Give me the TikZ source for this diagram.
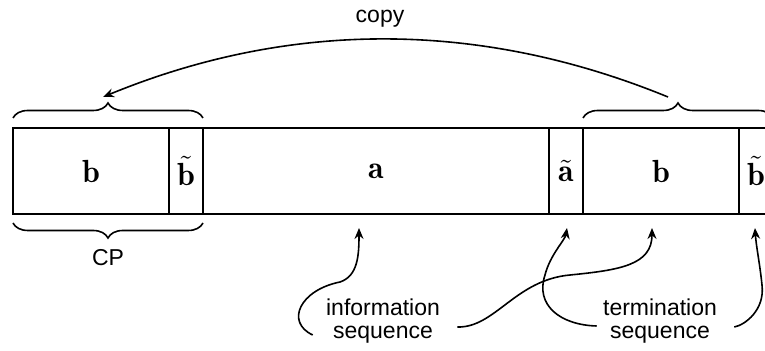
\RequirePackage{fix-cm}
\documentclass[tikz,border=0pt]{standalone}
\usepackage{fontspec}
\setsansfont{Liberation Sans}
\usetikzlibrary{arrows.meta,decorations.pathreplacing,calc}
\tikzset{
  cell/.style={draw,line width=0.8pt,minimum height=43pt,inner sep=0pt,outer sep=0pt,font=\fontsize{16}{16}\selectfont},
  wide/.style={cell,minimum width=78pt},
  narrow/.style={cell,minimum width=17pt},
  huge/.style={cell,minimum width=173pt},
  lbl/.style={font=\sffamily\fontsize{11.5}{11.5}\selectfont,align=center,inner sep=0pt},
  brc/.style={decorate,decoration={brace,amplitude=7.5pt},line width=0.8pt},
  arr/.style={line width=0.8pt,-{Stealth[length=5.5pt,width=4.5pt]}}
}
\begin{document}
\begin{tikzpicture}[x=0.5pt,y=-0.5pt]
\useasboundingbox (0,0) rectangle (765,351);
\clip (0,0) rectangle (765,351);
% cells
\node[wide]   (b1)  at (91,171)  {$\mathbf{b}$};
\node[narrow] (bt1) at (186,171) {$\tilde{\mathbf{b}}$};
\node[huge]   (a)   at (376,171) {$\mathbf{a}$};
\node[narrow] (at)  at (566,171) {$\tilde{\mathbf{a}}$};
\node[wide]   (b2)  at (661,171) {$\mathbf{b}$};
\node[narrow] (bt2) at (756,171) {$\tilde{\mathbf{b}}$};
% braces
\draw[brc] ($(b1.north west)+(0,-10)$) -- ($(bt1.north east)+(0,-10)$);
\draw[brc] ($(b2.north west)+(0,-10)$) -- ($(bt2.north east)+(0,-10)$);
\draw[brc] ($(bt1.south east)+(0,9)$) -- ($(b1.south west)+(0,9)$);
% labels
\node[lbl] (cp) at (108,258) {CP};
\node[lbl] (copy) at (380,19) {copy};
\node[lbl] (info) at (383,321) {information\\sequence};
\node[lbl] (term) at (660,321) {termination\\sequence};
% copy arc
\coordinate (cs) at (668,97);
\coordinate (ce) at (103,97);
\draw[arr] (cs) .. controls (480,20) and (290,20) .. (ce);
% arrow tips
\coordinate (t1) at (359,228);
\coordinate (t2) at (652,228);
\coordinate (t3) at (567,228);
\coordinate (t4) at (755,228);
\draw[arr] ($(info.west)+(-13,14)$) .. controls (285,322) and (300,290) .. (340,282)
   .. controls (358,276) and (359,255) .. (t1);
\draw[arr] ($(info.east)+(17,6)$) .. controls (495,328) and (515,280) .. (570,275)
   .. controls (620,270) and (652,265) .. (t2);
\draw[arr] ($(term.west)+(-6,5)$) .. controls (560,325) and (535,305) .. (545,275)
   .. controls (550,255) and (565,240) .. (t3);
\draw[arr] ($(term.east)+(17,6)$) .. controls (745,325) and (765,310) .. (762,285)
   .. controls (760,265) and (756,245) .. (t4);
\end{tikzpicture}
\end{document}
